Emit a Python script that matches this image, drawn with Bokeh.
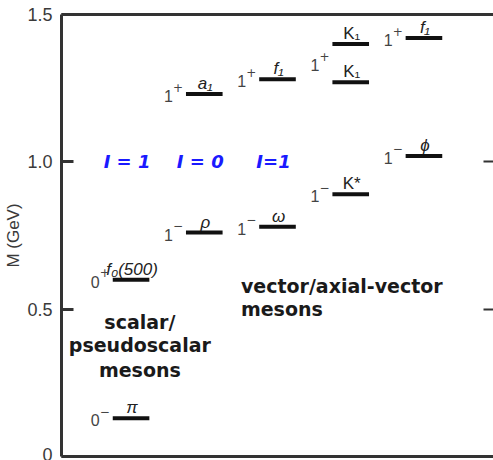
from bokeh.plotting import figure
from bokeh.models import (Range1d, LinearAxis, FixedTicker, CustomJSTickFormatter,
                          ColumnDataSource)
from bokeh.core.properties import value
from bokeh.embed import file_html
from bokeh.resources import INLINE

# Meson states: column on the chart, name and mass (GeV)
state_col = [1, 1, 2, 2, 3, 3, 4, 4, 4, 5, 5]
state_name = ["π", "f₀(500)", "ρ", "a₁", "ω", "f₁", "K*", "K₁", "K₁", "ϕ", "f₁"]
state_mass = [0.13, 0.60, 0.76, 1.23, 0.78, 1.28, 0.89, 1.27, 1.40, 1.02, 1.42]
state_style = ["italic", "italic", "italic", "italic", "italic", "italic",
               "normal", "normal", "normal", "italic", "italic"]

# J^P labels (the two K1 states share one label between them)
jp_col = [1, 1, 2, 2, 3, 3, 4, 4, 5, 5]
jp_mass = [0.13, 0.60, 0.76, 1.23, 0.78, 1.28, 0.89, 1.335, 1.02, 1.42]
jp_spin = ["0", "0", "1", "1", "1", "1", "1", "1", "1", "1"]
jp_parity = ["−", "+", "−", "+", "−", "+", "−", "+", "−", "+"]

# Isospin headers
iso_col = [1, 2, 3]
iso_text = ["I = 1", "I = 0", "I=1"]
iso_mass = [1.0, 1.0, 1.0]

y_ticks = [0, 0.5, 1.0, 1.5]

HALF = 0.25

p = figure(width=493, height=460, output_backend="svg", toolbar_location=None,
           x_range=Range1d(0.05, 5.95), y_range=Range1d(0, 1.5),
           min_border_left=61, min_border_top=14, min_border_right=0,
           min_border_bottom=4)
p.outline_line_color = None
p.grid.visible = False
p.background_fill_color = "white"
p.border_fill_color = "white"

AX = "#333333"
blank = CustomJSTickFormatter(code="return '';")

# left axis
ya = p.yaxis[0]
ya.ticker = FixedTicker(ticks=y_ticks)
ya.formatter = CustomJSTickFormatter(code="return tick == 0 ? '0' : tick.toFixed(1);")
ya.major_tick_in = 12
ya.major_tick_out = 0
ya.minor_tick_in = 0
ya.minor_tick_out = 0
ya.axis_line_width = 3
ya.axis_line_color = AX
ya.major_tick_line_width = 3
ya.major_tick_line_color = AX
ya.major_label_text_font = "Liberation Sans"
ya.major_label_text_font_size = "18px"
ya.major_label_text_color = "#3a3a3a"
ya.major_label_standoff = 9
ya.axis_label = "M (GeV)"
ya.axis_label_text_font = "Liberation Sans"
ya.axis_label_text_font_style = "normal"
ya.axis_label_text_font_size = "17px"
ya.axis_label_text_color = "#3a3a3a"
ya.axis_label_standoff = 1

# bottom axis: just the frame line
xa = p.xaxis[0]
xa.ticker = FixedTicker(ticks=[])
xa.formatter = blank
xa.major_label_standoff = 0
xa.major_tick_in = 0
xa.major_tick_out = 0
xa.minor_tick_in = 0
xa.minor_tick_out = 0
xa.axis_line_width = 3
xa.axis_line_color = AX

# top frame line
top = LinearAxis(ticker=FixedTicker(ticks=[]), formatter=blank,
                 major_label_standoff=0, major_tick_in=0, major_tick_out=0,
                 minor_tick_in=0, minor_tick_out=0, axis_line_width=3,
                 axis_line_color=AX)
p.add_layout(top, "above")

# right ticks only
right = LinearAxis(ticker=FixedTicker(ticks=[0.5, 1.0]), formatter=blank,
                   major_label_standoff=0, major_tick_in=10, major_tick_out=0,
                   minor_tick_in=0, minor_tick_out=0, axis_line_color=None,
                   major_tick_line_width=2, major_tick_line_color=AX)
p.add_layout(right, "right")

# level bars
bars = ColumnDataSource(dict(
    x0=[c - HALF for c in state_col], x1=[c + HALF for c in state_col],
    xc=state_col, y=state_mass, name=state_name, style=state_style))
p.segment(x0="x0", y0="y", x1="x1", y1="y", source=bars,
          line_color="#111111", line_width=4)

# names above the bars
p.text(x="xc", y="y", text="name", source=bars, text_align="center",
       text_baseline="bottom", y_offset=-1, x_offset=1,
       text_font=value("Liberation Sans"), text_font_size="17px",
       text_font_style="style", text_color="#222222")

# J^P labels
jp = ColumnDataSource(dict(x=[c - HALF for c in jp_col], y=jp_mass,
                           spin=jp_spin, parity=jp_parity))
p.text(x="x", y="y", text="spin", source=jp, text_align="right",
       text_baseline="middle", x_offset=-13, y_offset=2,
       text_font=value("Liberation Sans"), text_font_size="16px",
       text_color="#444444")
p.text(x="x", y="y", text="parity", source=jp, text_align="left",
       text_baseline="middle", x_offset=-13, y_offset=-7,
       text_font=value("DejaVu Sans"), text_font_size="12px",
       text_color="#444444")

# isospin headers
iso = ColumnDataSource(dict(x=iso_col, y=iso_mass, t=iso_text))
p.text(x="x", y="y", text="t", source=iso, text_align="center",
       text_baseline="middle", x_offset=-4,
       text_font=value("DejaVu Sans"), text_font_size="18px",
       text_font_style="bold italic", text_color="#1a1aff")

# group captions
scal = ColumnDataSource(dict(x=[1.12] * 3, y=[0.455, 0.377, 0.295],
                             t=["scalar/", "pseudoscalar", "mesons"]))
p.text(x="x", y="y", text="t", source=scal, text_align="center",
       text_baseline="middle", text_font=value("DejaVu Sans"),
       text_font_size="19px", text_font_style="bold", text_color="#1a1a1a")

vec = ColumnDataSource(dict(x=[2.5] * 2, y=[0.58, 0.502],
                            t=["vector/axial-vector", "mesons"]))
p.text(x="x", y="y", text="t", source=vec, text_align="left",
       text_baseline="middle", text_font=value("DejaVu Sans"),
       text_font_size="19px", text_font_style="bold", text_color="#1a1a1a")

open("out.html", "w").write(file_html(p, INLINE))
